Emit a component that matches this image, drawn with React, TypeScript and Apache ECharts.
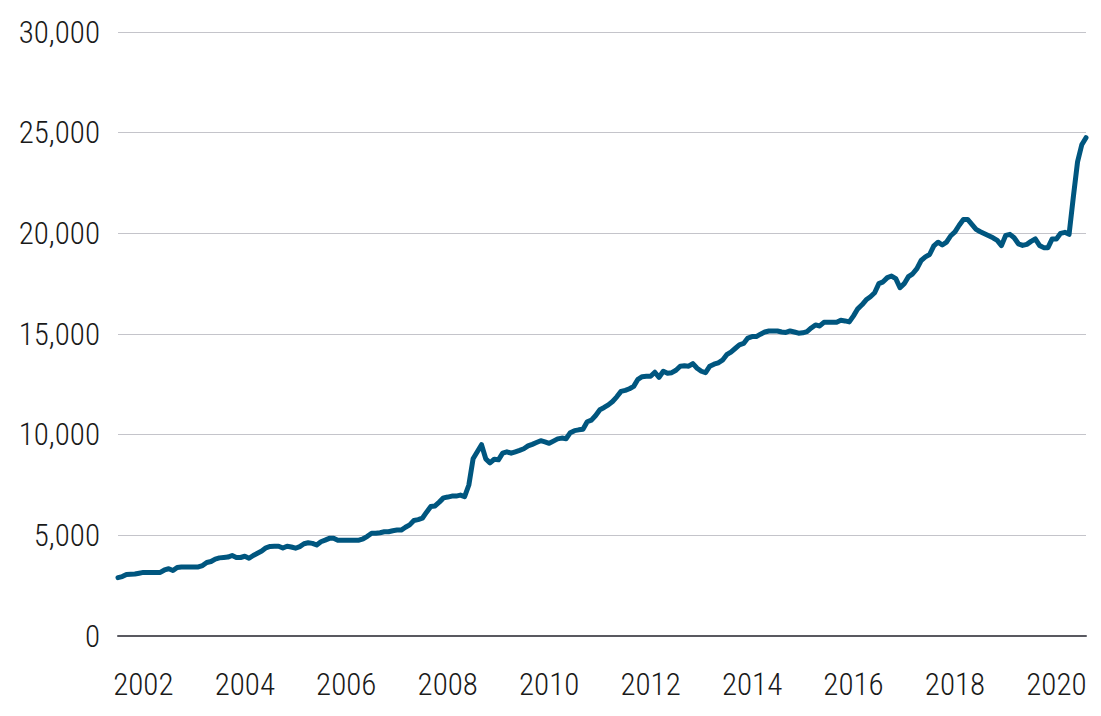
import React, { useEffect, useRef } from "react";
import * as echarts from "echarts";

// Monthly values, Jul 2001 – Aug 2020
const values2001 = [2900, 2950, 3050, 3070, 3080, 3120];
const values2002 = [3160, 3160, 3160, 3160, 3160, 3280, 3340, 3250, 3400, 3430, 3430, 3430];
const values2003 = [3430, 3430, 3500, 3650, 3700, 3820, 3880, 3900, 3920, 4000, 3900, 3900];
const values2004 = [3960, 3860, 4000, 4110, 4220, 4380, 4450, 4460, 4460, 4370, 4460, 4420];
const values2005 = [4360, 4440, 4580, 4630, 4600, 4520, 4680, 4760, 4850, 4850, 4750, 4750];
const values2006 = [4750, 4750, 4750, 4760, 4830, 4950, 5100, 5100, 5130, 5180, 5180, 5230];
const values2007 = [5260, 5260, 5400, 5520, 5740, 5780, 5850, 6150, 6430, 6460, 6650, 6860];
const values2008 = [6900, 6950, 6950, 7000, 6920, 7500, 8800, 9150, 9500, 8800, 8600, 8780];
const values2009 = [8750, 9080, 9150, 9080, 9150, 9220, 9300, 9440, 9520, 9610, 9700, 9640];
const values2010 = [9570, 9680, 9790, 9830, 9800, 10100, 10200, 10240, 10270, 10640, 10720, 10950];
const values2011 = [11240, 11350, 11480, 11650, 11880, 12150, 12200, 12280, 12400, 12750, 12880, 12900];
const values2012 = [12900, 13100, 12850, 13150, 13050, 13080, 13200, 13400, 13420, 13400, 13530, 13300];
const values2013 = [13150, 13080, 13400, 13500, 13570, 13700, 13970, 14100, 14280, 14460, 14530, 14800];
const values2014 = [14870, 14870, 14990, 15100, 15150, 15150, 15150, 15100, 15080, 15150, 15100, 15040];
const values2015 = [15060, 15120, 15300, 15450, 15400, 15580, 15580, 15580, 15580, 15680, 15650, 15600];
const values2016 = [15900, 16250, 16450, 16700, 16850, 17050, 17500, 17590, 17800, 17880, 17750, 17300];
const values2017 = [17500, 17850, 17990, 18250, 18650, 18830, 18950, 19380, 19560, 19420, 19560, 19880];
const values2018 = [20070, 20400, 20690, 20690, 20450, 20200, 20080, 19980, 19880, 19780, 19650, 19390];
const values2019 = [19900, 19950, 19780, 19480, 19400, 19450, 19600, 19720, 19400, 19290, 19290, 19720];
const values2020 = [19720, 20000, 20050, 19950, 21800, 23550, 24400, 24750];

const seriesValues = [
  ...values2001, ...values2002, ...values2003, ...values2004, ...values2005,
  ...values2006, ...values2007, ...values2008, ...values2009, ...values2010,
  ...values2011, ...values2012, ...values2013, ...values2014, ...values2015,
  ...values2016, ...values2017, ...values2018, ...values2019, ...values2020,
];

const startYear = 2001;
const startMonth = 7; // July
const categories: string[] = seriesValues.map((_, i) => {
  const total = startMonth - 1 + i;
  const y = startYear + Math.floor(total / 12);
  const m = (total % 12) + 1;
  return `${y}-${String(m).padStart(2, "0")}`;
});

const tickYears = ["2002", "2004", "2006", "2008", "2010", "2012", "2014", "2016", "2018", "2020"];
const yTicks = { min: 0, max: 30000, interval: 5000 };

const FONT = "'Roboto Condensed', 'Liberation Sans Narrow', 'Roboto', sans-serif";

export default function App() {
  const ref = useRef<HTMLDivElement>(null);
  useEffect(() => {
    if (!ref.current) return;
    const chart = echarts.init(ref.current, null, { renderer: "svg" });
    chart.setOption({
      animation: false,
      backgroundColor: "#ffffff",
      grid: { left: 118, right: 15, top: 32, bottom: 80, containLabel: false },
      xAxis: {
        type: "category",
        data: categories,
        boundaryGap: false,
        axisLine: { show: true, lineStyle: { color: "#595960", width: 2 } },
        axisTick: { show: false },
        splitLine: { show: false },
        axisLabel: {
          interval: (_idx: number, value: string) => {
            const [y, m] = value.split("-");
            return m === "01" && tickYears.includes(y);
          },
          formatter: (value: string) => value.split("-")[0],
          margin: 33,
          color: "#1a1a1a",
          fontSize: 31,
          fontWeight: 300,
          fontFamily: FONT,
        },
      },
      yAxis: {
        type: "value",
        min: yTicks.min,
        max: yTicks.max,
        interval: yTicks.interval,
        axisLine: { show: false },
        axisTick: { show: false },
        splitLine: { show: true, lineStyle: { color: "#C4C4CA", width: 1 } },
        axisLabel: {
          formatter: (v: number) => v.toLocaleString("en-US"),
          margin: 18,
          color: "#1a1a1a",
          fontSize: 31,
          fontWeight: 300,
          fontFamily: FONT,
        },
      },
      series: [
        {
          type: "line",
          data: seriesValues,
          showSymbol: false,
          symbol: "none",
          lineStyle: { color: "#00567F", width: 5, cap: "round", join: "round" },
          z: 3,
        },
      ],
    });
    return () => chart.dispose();
  }, []);
  return (
    <div
      ref={ref}
      style={{ position: "fixed", left: 0, top: 0, width: 1101, height: 716 }}
    />
  );
}
